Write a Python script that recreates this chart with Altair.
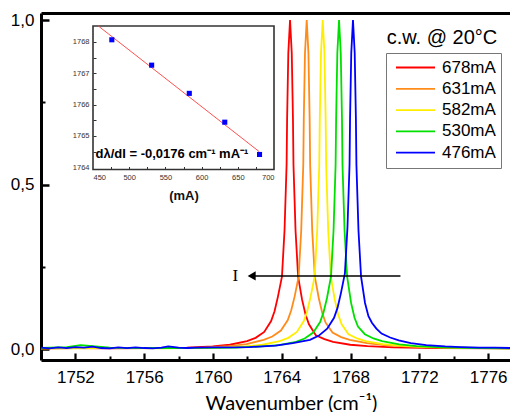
import altair as alt
import pandas as pd

# ---------------- data ----------------
series_names = ["678mA", "631mA", "582mA", "530mA", "476mA"]
series_colors = ["#ff0000", "#ff8c1a", "#ffee00", "#00e000", "#0000ff"]

red_x = [1750.0, 1752.0, 1754.0, 1756.0, 1758.48, 1759.98, 1760.98, 1761.98, 1762.48, 1762.98,
         1763.38, 1763.58, 1763.78, 1764.01, 1764.16, 1764.28, 1764.31, 1764.38, 1764.48, 1764.58,
         1764.65, 1764.68, 1764.80, 1764.95, 1765.18, 1765.38, 1765.58, 1765.98, 1766.48, 1766.98,
         1767.98, 1768.98, 1770.48, 1773.0, 1777.27]
red_y = [0.002, 0.003, 0.002, 0.003, 0.004, 0.008, 0.013, 0.024, 0.034, 0.052,
         0.085, 0.115, 0.16, 0.22, 0.36, 0.56, 0.70, 0.90, 1.0, 0.90,
         0.70, 0.56, 0.36, 0.22, 0.15, 0.105, 0.075, 0.042, 0.03, 0.022,
         0.013, 0.009, 0.005, 0.003, 0.002]

or_x = [1750.0, 1753.0, 1756.0, 1759.45, 1760.95, 1761.95, 1762.95, 1763.45, 1763.95, 1764.35,
        1764.55, 1764.75, 1764.98, 1765.13, 1765.25, 1765.28, 1765.35, 1765.45, 1765.55, 1765.62,
        1765.65, 1765.77, 1765.92, 1766.15, 1766.35, 1766.55, 1766.95, 1767.45, 1767.95, 1768.95,
        1769.95, 1771.45, 1774.0, 1777.27]
or_y = [0.002, 0.003, 0.003, 0.004, 0.009, 0.015, 0.028, 0.038, 0.056, 0.088,
        0.118, 0.16, 0.22, 0.36, 0.56, 0.70, 0.90, 1.0, 0.90, 0.70,
        0.56, 0.36, 0.22, 0.155, 0.11, 0.08, 0.05, 0.036, 0.028, 0.018,
        0.012, 0.007, 0.004, 0.002]

ye_x = [1750.0, 1754.0, 1757.0, 1760.38, 1761.88, 1762.88, 1763.88, 1764.38, 1764.88, 1765.28,
        1765.48, 1765.68, 1765.91, 1766.06, 1766.18, 1766.21, 1766.28, 1766.38, 1766.48, 1766.55,
        1766.58, 1766.70, 1766.85, 1767.08, 1767.28, 1767.48, 1767.88, 1768.38, 1768.88, 1769.88,
        1770.88, 1772.38, 1775.0, 1777.27]
ye_y = [0.002, 0.003, 0.002, 0.004, 0.008, 0.013, 0.024, 0.034, 0.052, 0.085,
        0.115, 0.16, 0.22, 0.36, 0.56, 0.70, 0.90, 1.0, 0.90, 0.70,
        0.56, 0.36, 0.22, 0.15, 0.105, 0.075, 0.045, 0.032, 0.024, 0.015,
        0.01, 0.006, 0.003, 0.002]

gr_x = [1750.0, 1751.5, 1752.3, 1753.0, 1754.0, 1756.0, 1758.0, 1761.33, 1762.83, 1763.83,
        1764.83, 1765.33, 1765.83, 1766.23, 1766.43, 1766.63, 1766.86, 1767.01, 1767.13, 1767.16,
        1767.23, 1767.33, 1767.43, 1767.50, 1767.53, 1767.65, 1767.80, 1768.03, 1768.23, 1768.43,
        1768.83, 1769.33, 1769.83, 1770.83, 1771.83, 1773.33, 1775.5, 1777.27]
gr_y = [0.003, 0.006, 0.012, 0.009, 0.004, 0.003, 0.003, 0.004, 0.008, 0.012,
        0.022, 0.032, 0.05, 0.082, 0.112, 0.155, 0.22, 0.36, 0.56, 0.70,
        0.90, 1.0, 0.90, 0.70, 0.56, 0.36, 0.22, 0.14, 0.095, 0.068,
        0.045, 0.032, 0.024, 0.014, 0.009, 0.005, 0.003, 0.002]

bl_x = [1750.0, 1750.5, 1751.0, 1751.5, 1752.0, 1752.5, 1753.0, 1753.5, 1754.0, 1754.5,
        1755.0, 1755.5, 1756.0, 1756.5, 1757.0, 1757.4, 1758.0, 1758.5, 1759.0, 1760.0,
        1761.0, 1762.14, 1763.64, 1764.64, 1765.64, 1766.14, 1766.64, 1767.04, 1767.24, 1767.44,
        1767.67, 1767.82, 1767.94, 1767.97, 1768.04, 1768.14, 1768.24, 1768.31, 1768.34, 1768.46,
        1768.61, 1768.84, 1769.04, 1769.24, 1769.5, 1769.8, 1770.3, 1770.8, 1771.5, 1772.4,
        1773.5, 1774.4, 1775.5, 1776.4, 1777.27]
bl_y = [0.004, 0.002, 0.005, 0.003, 0.006, 0.004, 0.007, 0.003, 0.002, 0.005,
        0.003, 0.005, 0.003, 0.002, 0.004, 0.008, 0.004, 0.003, 0.004, 0.005,
        0.005, 0.006, 0.01, 0.018, 0.028, 0.04, 0.062, 0.095, 0.125, 0.17,
        0.23, 0.37, 0.56, 0.70, 0.90, 1.0, 0.90, 0.70, 0.56, 0.36,
        0.22, 0.14, 0.1, 0.08, 0.062, 0.047, 0.035, 0.026, 0.018, 0.012,
        0.008, 0.006, 0.004, 0.004, 0.003]

x_major_ticks = [1752, 1756, 1760, 1764, 1768, 1772, 1776]
x_minor_ticks = [1754, 1758, 1762, 1766, 1770, 1774]
y_major_ticks = [0.0, 0.5, 1.0]
y_minor_ticks = [0.25, 0.75]

# inset data
inset_current = [476, 531, 583, 632, 680]
inset_wavenumber = [1768.07, 1767.26, 1766.36, 1765.44, 1764.41]
fit_current = [457.4, 679.6]
fit_wavenumber = [1768.51, 1764.5]
inset_x_ticks = [450, 500, 550, 600, 650, 700]
inset_y_ticks = [1764, 1765, 1766, 1767, 1768]
inset_x_minor = [475, 500, 525, 550, 575, 600, 625, 650, 675]
inset_y_minor = [1764.5, 1765, 1765.5, 1766, 1766.5, 1767, 1767.5, 1768]

# annotations
arrow_x = [1770.9, 1762.4]
arrow_y = [0.222, 0.222]
arrowhead = {"x": [1762.25], "y": [0.222]}
current_label = {"x": [1761.3], "y": [0.222], "t": ["I"]}
legend_title = {"x": [1770.1], "y": [0.944], "t": ["c.w. @ 20°C"]}
fit_label = {"x": [453.5], "y": [1764.41], "t": ["dλ/dI = -0,0176 cm⁻¹ mA⁻¹"]}

# ---------------- chart ----------------
W, H = 469, 347
X_DOM = [1750, 1777.27]
Y_DOM = [-0.0334, 1.0213]
FONT = "Liberation Sans"

xs = alt.Scale(domain=X_DOM, nice=False, zero=False)
ys = alt.Scale(domain=Y_DOM, nice=False, zero=False)

color_enc = alt.Color(
    "series:N",
    scale=alt.Scale(domain=series_names, range=series_colors),
    legend=alt.Legend(
        orient="none", legendX=345, legendY=40, title=None,
        symbolType="stroke", symbolSize=1521, symbolStrokeWidth=1.8,
        symbolOffset=4,
        labelFontSize=17, labelFont=FONT, labelColor="#000",
        labelOffset=6, strokeColor="#777", fillColor="white",
        padding=5, rowPadding=2.3, clipHeight=19, direction="vertical",
    ),
)

series_data = [
    ("678mA", red_x, red_y),
    ("631mA", or_x, or_y),
    ("582mA", ye_x, ye_y),
    ("530mA", gr_x, gr_y),
    ("476mA", bl_x, bl_y),
]

fmt = "replace(format(datum.value, '.1f'), '.', ',')"

line_layers = []
for i, (name, xv, yv) in enumerate(series_data):
    df = pd.DataFrame({"x": xv, "y": yv, "series": name})
    if i == 0:
        xax = alt.Axis(orient="bottom", values=x_major_ticks, format="d", ticks=False,
                       grid=False, domainColor="black", domainWidth=3,
                       labelFont=FONT, labelFontSize=17, labelColor="black", labelPadding=9,
                       title="Wavenumber (cm⁻¹)", titleFont="Lato", titleFontSize=20,
                       titleFontWeight="normal", titleColor="black",
                       titleX=250, titleY=33, titleBaseline="top", titleAlign="center")
        yax = alt.Axis(orient="left", values=y_major_ticks, labelExpr=fmt, ticks=False,
                       grid=False, domainColor="black", domainWidth=3,
                       labelFont=FONT, labelFontSize=17, labelColor="black", labelPadding=7,
                       title=None)
    else:
        xax = None
        yax = None
    line_layers.append(
        alt.Chart(df).mark_line(strokeWidth=1.8, clip=True).encode(
            x=alt.X("x:Q", scale=xs, axis=xax),
            y=alt.Y("y:Q", scale=ys, axis=yax),
            color=color_enc,
            order=alt.Order("x:Q"),
        )
    )

dummy = pd.DataFrame({"x": [1760.0], "y": [0.5]})

major_ticks = alt.Chart(dummy).mark_point(opacity=0).encode(
    x=alt.X("x:Q", scale=xs, axis=alt.Axis(orient="bottom", offset=-7, values=x_major_ticks,
            tickSize=7, tickWidth=2.2, tickColor="black", labels=False, domain=False,
            grid=False, title=None)),
    y=alt.Y("y:Q", scale=ys, axis=alt.Axis(orient="left", offset=-8, values=y_major_ticks,
            tickSize=8, tickWidth=2.5, tickColor="black", labels=False, domain=False,
            grid=False, title=None)),
)
minor_ticks = alt.Chart(dummy).mark_point(opacity=0).encode(
    x=alt.X("x:Q", scale=xs, axis=alt.Axis(orient="bottom", offset=-4, values=x_minor_ticks,
            tickSize=4, tickWidth=2, tickColor="black", labels=False, domain=False,
            grid=False, title=None)),
    y=alt.Y("y:Q", scale=ys, axis=alt.Axis(orient="left", offset=-4, values=y_minor_ticks,
            tickSize=4, tickWidth=2, tickColor="black", labels=False, domain=False,
            grid=False, title=None)),
)
top_border = alt.Chart(dummy).mark_point(opacity=0).encode(
    x=alt.X("x:Q", scale=xs, axis=alt.Axis(orient="top", ticks=False, labels=False,
            domain=True, domainColor="black", domainWidth=3, grid=False, title=None)),
    y=alt.Y("y:Q", scale=ys, axis=None),
)

arrow_line = alt.Chart(pd.DataFrame({"x": arrow_x, "y": arrow_y})).mark_line(
    color="black", strokeWidth=1.5).encode(
    x=alt.X("x:Q", scale=xs, axis=None), y=alt.Y("y:Q", scale=ys, axis=None))
arrow_head = alt.Chart(pd.DataFrame(arrowhead)).mark_point(
    shape="triangle-left", filled=True, color="black", size=85, opacity=1).encode(
    x=alt.X("x:Q", scale=xs, axis=None), y=alt.Y("y:Q", scale=ys, axis=None))
i_text = alt.Chart(pd.DataFrame(current_label)).mark_text(
    font="Liberation Serif", fontSize=17, color="black", align="center", baseline="middle").encode(
    x=alt.X("x:Q", scale=xs, axis=None), y=alt.Y("y:Q", scale=ys, axis=None), text="t:N")
cw_text = alt.Chart(pd.DataFrame(legend_title)).mark_text(
    font=FONT, fontSize=20, color="black", align="left", baseline="middle").encode(
    x=alt.X("x:Q", scale=xs, axis=None), y=alt.Y("y:Q", scale=ys, axis=None), text="t:N")

main = alt.layer(*line_layers, major_ticks, minor_ticks, top_border,
                 arrow_line, arrow_head, i_text, cw_text).resolve_axis(x="independent", y="independent")

# ---- inset ----
IX_DOM = [450, 700]
IY_DOM = [1763.93, 1768.51]
ixs = alt.Scale(domain=IX_DOM, range=[52, 233], nice=False, zero=False)
iys = alt.Scale(domain=IY_DOM, range=[156.5, 13], nice=False, zero=False)

frame = alt.Chart(pd.DataFrame({"x": [IX_DOM[0]], "x2": [IX_DOM[1]],
                                "y": [IY_DOM[0]], "y2": [IY_DOM[1]]})).mark_rect(
    fill="white", stroke="#333", strokeWidth=1.6).encode(
    x=alt.X("x:Q", scale=ixs, axis=None),
    x2="x2:Q",
    y=alt.Y("y:Q", scale=iys, axis=None),
    y2="y2:Q",
)
idummy = pd.DataFrame({"x": [600.0], "y": [1766.0]})
inset_axes = alt.Chart(idummy).mark_point(opacity=0).encode(
    x=alt.X("x:Q", scale=ixs, axis=alt.Axis(orient="bottom", offset=-190.5, values=inset_x_ticks,
            format="d", ticks=False, domain=False, grid=False, labelFont=FONT, labelFontSize=7.5,
            labelColor="#333", labelPadding=4, title="(mA)", titleFont=FONT, titleFontSize=13,
            titleFontWeight="bold", titleColor="#111", titlePadding=8, zindex=2)),
    y=alt.Y("y:Q", scale=iys, axis=alt.Axis(orient="left", offset=-52, values=inset_y_ticks,
            format="d", ticks=False, domain=False, grid=False, labelFont=FONT, labelFontSize=7.5,
            labelColor="#333", labelPadding=4, title=None, zindex=2)),
)
inset_ticks = alt.Chart(idummy).mark_point(opacity=0).encode(
    x=alt.X("x:Q", scale=ixs, axis=alt.Axis(orient="bottom", offset=-193.5, values=inset_x_minor,
            tickSize=3, tickWidth=1, tickColor="#333", labels=False, domain=False, grid=False,
            title=None, zindex=2)),
    y=alt.Y("y:Q", scale=iys, axis=alt.Axis(orient="left", offset=-55, values=inset_y_minor,
            tickSize=3, tickWidth=1, tickColor="#333", labels=False, domain=False, grid=False,
            title=None, zindex=2)),
)
fit_line = alt.Chart(pd.DataFrame({"x": fit_current, "y": fit_wavenumber})).mark_line(
    color="#ff5050", strokeWidth=1).encode(
    x=alt.X("x:Q", scale=ixs, axis=None), y=alt.Y("y:Q", scale=iys, axis=None))
pts = alt.Chart(pd.DataFrame({"x": inset_current, "y": inset_wavenumber})).mark_point(
    shape="square", filled=True, color="#0000ff", size=26, opacity=1).encode(
    x=alt.X("x:Q", scale=ixs, axis=None), y=alt.Y("y:Q", scale=iys, axis=None))
fit_txt = alt.Chart(pd.DataFrame(fit_label)).mark_text(
    font=FONT, fontSize=13, fontWeight="bold", color="black", align="left", baseline="middle").encode(
    x=alt.X("x:Q", scale=ixs, axis=None), y=alt.Y("y:Q", scale=iys, axis=None), text="t:N")

inset = alt.layer(frame, inset_axes, inset_ticks, fit_line, pts, fit_txt).resolve_axis(
    x="independent", y="independent")

chart = alt.layer(main, inset).resolve_scale(x="independent", y="independent").properties(
    width=W, height=H,
    padding={"left": 33, "top": 5, "right": 0, "bottom": 52},
    autosize=alt.AutoSizeParams(type="none"),
).configure_view(stroke=None).configure(background="white")

chart.save("out.html", embed_options={"renderer": "svg", "actions": False})
